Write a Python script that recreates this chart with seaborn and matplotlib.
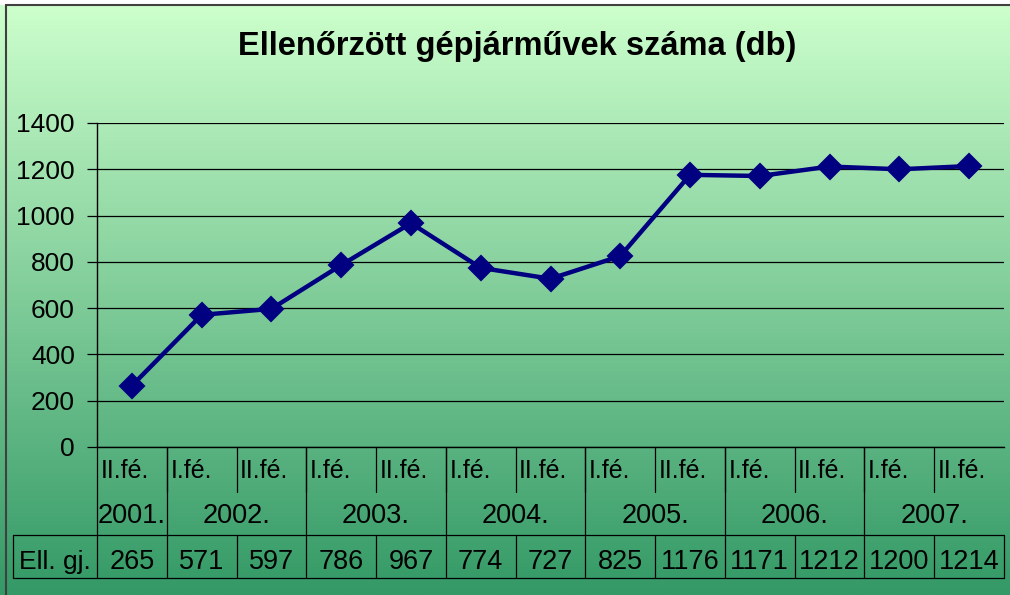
import numpy as np
import matplotlib
matplotlib.use("Agg")
import matplotlib.pyplot as plt
import matplotlib.transforms as mtransforms
from matplotlib.colors import LinearSegmentedColormap
from matplotlib.lines import Line2D
from matplotlib.patches import Rectangle
import seaborn as sns

# data
title = "Ellenőrzött gépjárművek száma (db)"
halves = ["II.fé.", "I.fé.", "II.fé.", "I.fé.", "II.fé.", "I.fé.", "II.fé.",
          "I.fé.", "II.fé.", "I.fé.", "II.fé.", "I.fé.", "II.fé."]
years = ["2001.", "2002.", "2003.", "2004.", "2005.", "2006.", "2007."]
year_spans = [1, 2, 2, 2, 2, 2, 2]
values = [265, 571, 597, 786, 967, 774, 727, 825, 1176, 1171, 1212, 1200, 1214]
row_label = "Ell. gj."
y_ticks = [0, 200, 400, 600, 800, 1000, 1200, 1400]

sns.set_style("white")
plt.rcParams["font.family"] = ["Liberation Sans", "DejaVu Sans"]

W, H = 1010, 595
fig = plt.figure(figsize=(W / 100, H / 100), dpi=100)

# gradient background + frame
bg = fig.add_axes([0, 0, 1, 1], zorder=0)
cmap = LinearSegmentedColormap.from_list("grn", ["#CCFFCC", "#339966"])
bg.imshow(np.linspace(0, 1, 256).reshape(-1, 1), aspect="auto", cmap=cmap,
          extent=[0, 1, 0, 1 - 5 / H])
bg.add_patch(Rectangle((6 / W, -0.1), 2, 1.1 - 5 / H, fill=False,
                       edgecolor="#404040", lw=1.5))
bg.set_xlim(0, 1)
bg.set_ylim(0, 1)
bg.axis("off")

def fy(py):
    return 1 - py / H

ax_left, ax_right, ax_top, ax_bot = 97, 1004, 123, 447
ax = fig.add_axes([ax_left / W, fy(ax_bot), (ax_right - ax_left) / W,
                   (ax_bot - ax_top) / H], zorder=1)
ax.patch.set_alpha(0)

x = np.arange(len(values))
sns.lineplot(x=x, y=values, ax=ax, color="#000080", lw=3.2, marker="D",
             markersize=12, markeredgecolor="#000080", markeredgewidth=1.5,
             zorder=3)

ax.set_xlim(-0.5, len(values) - 0.5)
ax.set_ylim(0, 1400)
ax.set_yticks(y_ticks)
ax.set_xticks([])
ax.yaxis.grid(True, color="black", lw=0.9)
ax.set_axisbelow(True)
for s in ["top", "right"]:
    ax.spines[s].set_visible(False)
for s in ["left", "bottom"]:
    ax.spines[s].set_color("black")
    ax.spines[s].set_linewidth(1.0)
ax.tick_params(axis="y", left=True, length=7, width=0.9, color="black",
               labelsize=19, pad=9, labelcolor="black")
ax.set_xlabel("")
ax.set_ylabel("")

# table below the axis
tr = mtransforms.blended_transform_factory(ax.transData, fig.transFigure)
lk = dict(color="black", lw=0.9, transform=tr, clip_on=False)

row1_bot, tab_top, tab_bot = 492, 535, 578
n = len(values)
# half-year separators
for i in range(1, n):
    ax.plot([i - 0.5, i - 0.5], [fy(ax_bot), fy(row1_bot)], **lk)
# year separators
b = -0.5
for span in year_spans:
    ax.plot([b, b], [fy(ax_bot), fy(tab_top)], **lk)
    b += span
# data table cells
for i in range(n + 1):
    ax.plot([i - 0.5, i - 0.5], [fy(tab_top), fy(tab_bot)], **lk)
fig.add_artist(Line2D([13 / W, 13 / W], [fy(tab_top), fy(tab_bot)],
                      color="black", lw=0.9))
for yy in [tab_top, tab_bot]:
    ax.plot([-0.5, n - 0.5], [fy(yy), fy(yy)], **lk)
    fig.add_artist(Line2D([13 / W, ax_left / W], [fy(yy), fy(yy)],
                          color="black", lw=0.9))

for i, lab in enumerate(halves):
    ax.text(i - 0.5 + 0.05, fy(478), lab, ha="left", va="baseline",
            fontsize=18, color="black", transform=tr, clip_on=False)
b = -0.5
for yr, span in zip(years, year_spans):
    ax.text(b + span / 2, fy(523), yr, ha="center", va="baseline",
            fontsize=19.5, color="black", transform=tr, clip_on=False)
    b += span
for i, v in enumerate(values):
    ax.text(i, fy(569), str(v), ha="center", va="baseline",
            fontsize=19.5, color="black", transform=tr, clip_on=False)
fig.text(55 / W, fy(569), row_label, ha="center", va="baseline", fontsize=19,
         color="black")

fig.text(517 / W, fy(55), title, ha="center", va="baseline", fontsize=23.5,
         fontweight="bold", color="black")

fig.savefig("out.png", dpi=100)
